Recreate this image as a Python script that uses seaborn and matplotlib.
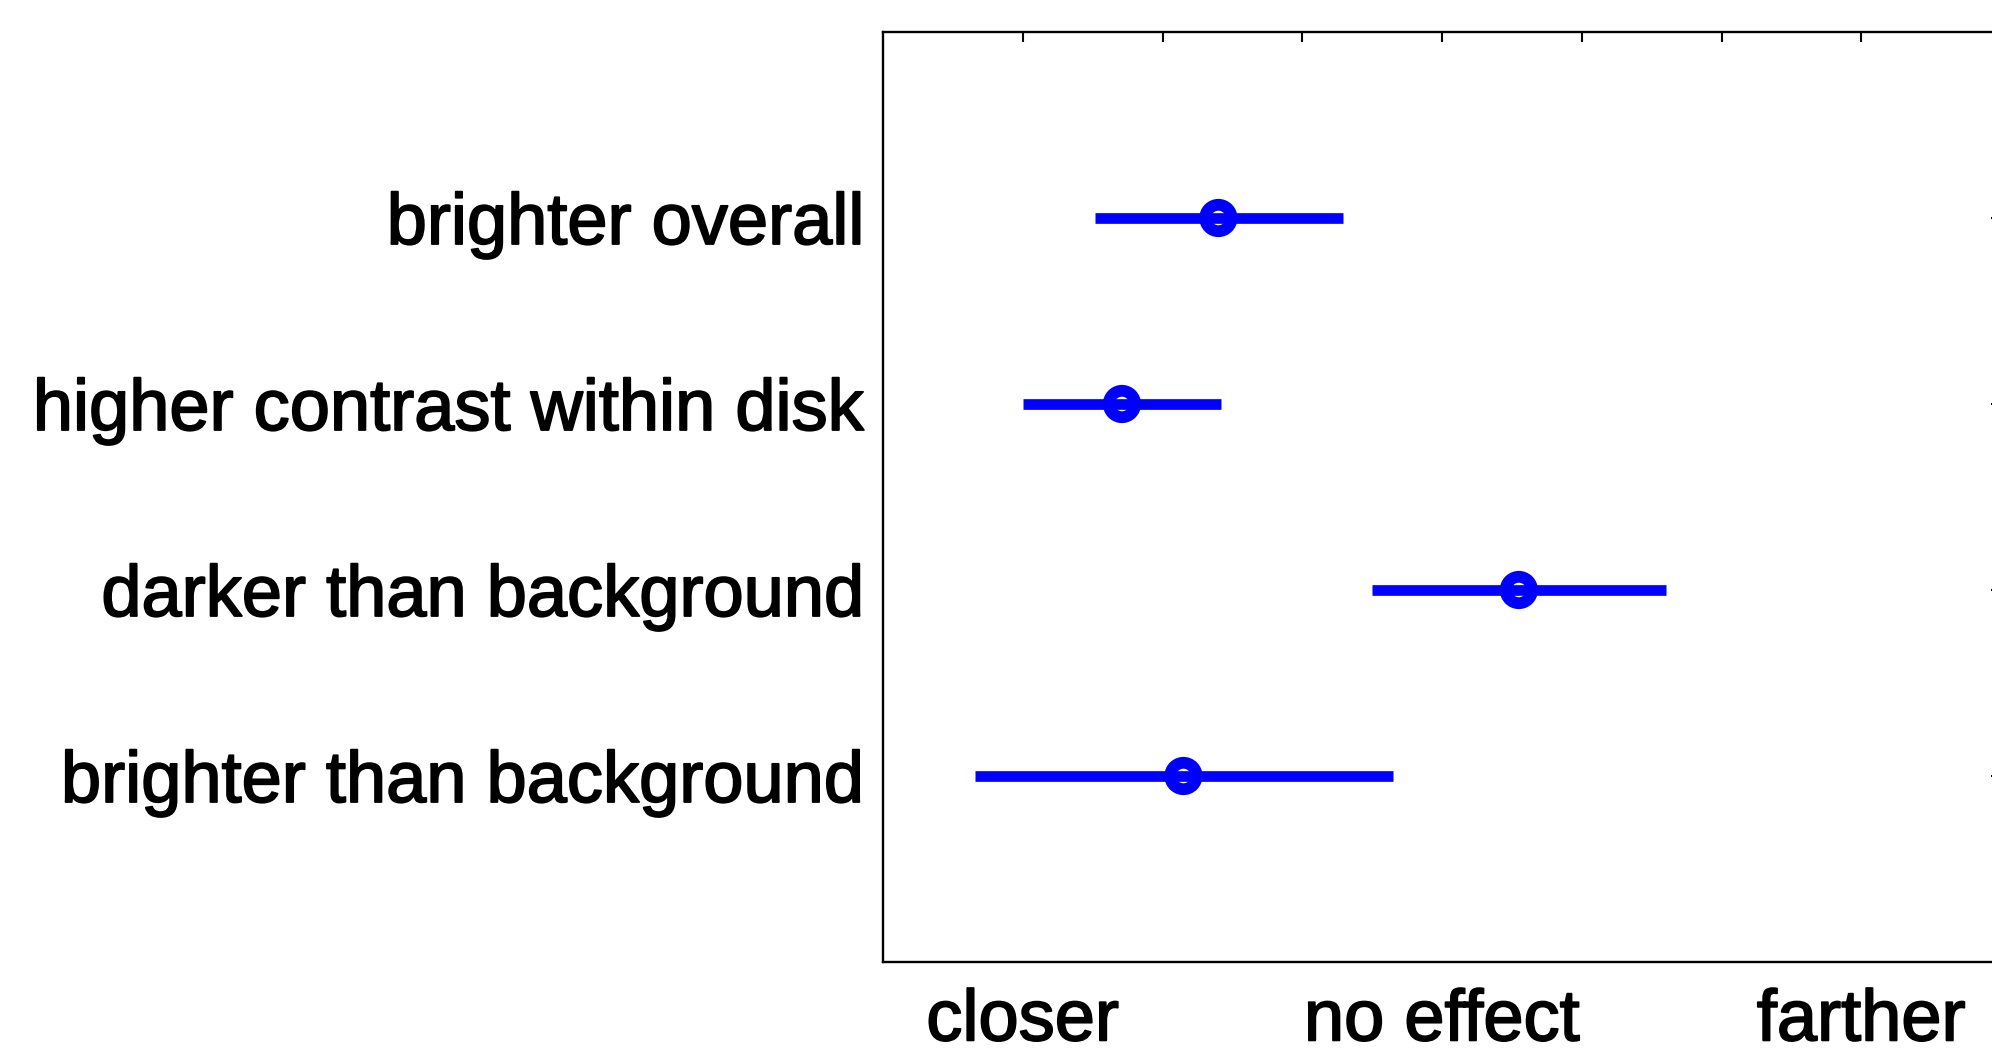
import numpy as np
import pandas as pd
import matplotlib
matplotlib.use("Agg")
import matplotlib.pyplot as plt
import matplotlib.patheffects as pe
import seaborn as sns

# ---- data ----
categories = ["brighter overall", "higher contrast within disk",
              "darker than background", "brighter than background"]
centers = [-1.60, -2.29, 0.55, -1.85]
lows = [-2.48, -3.00, -0.50, -3.34]
highs = [-0.71, -1.58, 1.60, -0.35]
xtick_values = [-3, -2, -1, 0, 1, 2, 3]
xtick_labels = ["closer", "", "", "no effect", "", "", "farther"]

sns.set_theme(style="white")
plt.rcParams['font.family'] = ['Liberation Sans', 'DejaVu Sans']

df = pd.DataFrame({"category": categories, "center": centers,
                   "low": lows, "high": highs})
df["pos"] = np.arange(1, len(df) + 1)

fig = plt.figure(figsize=(19.92, 10.52), dpi=100)
ax = fig.add_axes([883/1992, 90/1052, (2001-883)/1992, 930/1052])

blue = (0, 0, 1)
ax.hlines(df["pos"], df["low"], df["high"], color=blue, linewidth=7.7,
          capstyle="butt", zorder=2)
sns.scatterplot(data=df, x="center", y="pos", ax=ax, s=19**2, marker="o",
                facecolor="none", edgecolor=blue, linewidth=8.5, zorder=3,
                legend=False)

ax.set_xlim(-4, 4)
ax.set_ylim(5, 0)
ax.set_xticks(xtick_values)
ax.set_xticklabels(xtick_labels)
ax.set_yticks(df["pos"])
ax.set_yticklabels(df["category"])
ax.set_xlabel("")
ax.set_ylabel("")
ax.tick_params(axis="both", direction="in", length=7, width=1.5,
               labelsize=52, colors="black", top=True, right=True)
ax.tick_params(axis="y", pad=13)
ax.tick_params(axis="x", pad=19)
for lbl in ax.get_xticklabels() + ax.get_yticklabels():
    lbl.set_path_effects([pe.withStroke(linewidth=1.3, foreground="black")])
for sp in ax.spines.values():
    sp.set_visible(True)
    sp.set_color("black")
    sp.set_linewidth(1.7)
ax.grid(False)

fig.savefig("out.png", dpi=100, facecolor="white")
